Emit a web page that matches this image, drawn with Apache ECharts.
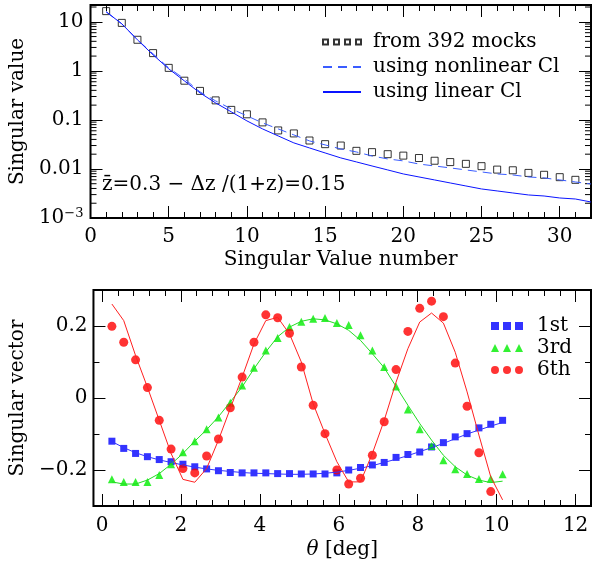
<!DOCTYPE html>
<html><head><meta charset="utf-8">
<script src="https://cdn.jsdelivr.net/npm/echarts@6/dist/echarts.min.js"></script>
<style>html,body{margin:0;padding:0;background:#fff}#c{width:592px;height:569px}</style>
</head><body><div id="c"></div>
<script>
const FONT = 'DejaVu Serif';
const FS = 20;

// ---- top panel data ----
const svIndex = [1,2,3,4,5,6,7,8,9,10,11,12,13,14,15,16,17,18,19,20,21,22,23,24,25,26,27,28,29,30,31,32];
const mocks = [16.5,9.5,4.3,2.3,1.15,0.63,0.39,0.25,0.16,0.13,0.089,0.061,0.053,0.038,0.032,0.030,0.0234,0.022,0.020,0.0187,0.0167,0.0147,0.0138,0.0127,0.0114,0.0097,0.0094,0.0083,0.0076,0.0068,0.0060];
const nonlinearCl = [16.0,9.1,4.29,2.22,1.15,0.687,0.373,0.244,0.168,0.121,0.0868,0.0655,0.0494,0.0373,0.0309,0.0256,0.0222,0.0184,0.0160,0.0146,0.0126,0.0115,0.0105,0.00955,0.00869,0.00791,0.00755,0.00687,0.00655,0.00597,0.00543,0.00494];
const linearCl = [16.0,9.1,4.29,2.12,1.10,0.625,0.356,0.222,0.146,0.0955,0.0655,0.0471,0.0340,0.0268,0.0212,0.0168,0.0139,0.0115,0.00955,0.00791,0.00687,0.00597,0.00518,0.00450,0.00391,0.00356,0.00324,0.00295,0.00281,0.00256,0.00244,0.00212];
const topXMajor = [0,5,10,15,20,25,30];
const topXMinor = [1,2,3,4,6,7,8,9,11,12,13,14,16,17,18,19,21,22,23,24,26,27,28,29,31];
const logMinor = [0.002,0.003,0.004,0.005,0.006,0.007,0.008,0.009,0.02,0.03,0.04,0.05,0.06,0.07,0.08,0.09,0.2,0.3,0.4,0.5,0.6,0.7,0.8,0.9,2,3,4,5,6,7,8,9,20];
const TOP_X = [0, 32];
const TOP_Y = [0.001, 22];

// ---- bottom panel data ----
const theta = [0.25,0.55,0.85,1.15,1.45,1.75,2.05,2.35,2.65,2.95,3.25,3.55,3.85,4.15,4.45,4.75,5.05,5.35,5.65,5.95,6.25,6.55,6.85,7.15,7.45,7.75,8.05,8.35,8.65,8.95,9.25,9.55,9.85,10.15];
const v1Pts = [-0.120,-0.140,-0.154,-0.163,-0.171,-0.177,-0.184,-0.191,-0.197,-0.202,-0.207,-0.208,-0.208,-0.208,-0.210,-0.210,-0.211,-0.211,-0.211,-0.208,-0.200,-0.193,-0.186,-0.179,-0.165,-0.157,-0.150,-0.136,-0.124,-0.108,-0.099,-0.083,-0.073,-0.062];
const v1Fit = [-0.121,-0.138,-0.152,-0.163,-0.172,-0.179,-0.186,-0.192,-0.197,-0.201,-0.204,-0.207,-0.209,-0.210,-0.211,-0.212,-0.212,-0.211,-0.209,-0.206,-0.201,-0.195,-0.188,-0.179,-0.170,-0.160,-0.149,-0.138,-0.126,-0.113,-0.100,-0.089,-0.078,-0.068];
const v3Pts = [-0.226,-0.233,-0.233,-0.233,-0.214,-0.184,-0.151,-0.120,-0.087,-0.054,-0.013,0.035,0.084,0.132,0.167,0.197,0.212,0.220,0.222,0.208,0.203,0.174,0.132,0.086,0.032,-0.032,-0.087,-0.133,-0.173,-0.198,-0.211,-0.225,-0.224,-0.212];
const v3Fit = [-0.233,-0.239,-0.239,-0.228,-0.210,-0.184,-0.154,-0.120,-0.088,-0.052,-0.011,0.031,0.081,0.128,0.170,0.197,0.213,0.220,0.217,0.206,0.188,0.160,0.123,0.084,0.032,-0.020,-0.071,-0.117,-0.159,-0.191,-0.214,-0.228,-0.235,-0.231];
const v6Pts = [0.199,0.155,0.106,0.029,-0.062,-0.142,-0.196,-0.208,-0.161,-0.114,-0.027,0.058,0.155,0.231,0.223,0.180,0.086,-0.020,-0.099,-0.200,-0.239,-0.223,-0.159,-0.066,0.079,0.185,0.249,0.269,0.226,0.097,-0.023,-0.152,-0.260];
const v6Fit = [0.261,0.215,0.118,0.030,-0.062,-0.154,-0.226,-0.234,-0.196,-0.117,-0.029,0.058,0.150,0.215,0.224,0.178,0.100,-0.016,-0.099,-0.177,-0.233,-0.233,-0.154,-0.062,0.044,0.137,0.211,0.236,0.208,0.127,0.017,-0.103,-0.219,-0.283];
const botXMajor = [0,2,4,6,8,10,12];
const botXMinor = [0.4,0.8,1.2,1.6,2.4,2.8,3.2,3.6,4.4,4.8,5.2,5.6,6.4,6.8,7.2,7.6,8.4,8.8,9.2,9.6,10.4,10.8,11.2,11.6];
const botYMajor = [-0.2,0,0.2];
const botYMinor = [-0.1,0.1];
const BOT_X = [-0.217, 12.39];
const BOT_Y = [-0.3, 0.3];

const txt = {fontFamily: FONT, fontSize: FS, color: '#000'};
const pair = (xs, ys) => ys.map((v, i) => [xs[i], v]);

function valAxis(grid, pos, ext, ticks, len, label, extra) {
  const a = {
    type: 'value', gridIndex: grid, position: pos, min: ext[0], max: ext[1],
    axisLine: {show: false, onZero: false}, splitLine: {show: false},
    axisTick: {show: true, inside: true, length: len, customValues: ticks, lineStyle: {color: '#000', width: 1}},
    axisLabel: label ? Object.assign({show: true, customValues: ticks, margin: 9}, txt, label) : {show: false}
  };
  return Object.assign(a, extra || {});
}

const minus = s => s.replace('-', '\u2212');

const xAxes = [
  valAxis(0, 'bottom', TOP_X, topXMajor, 12, {margin: 9}, {
    name: 'Singular Value number', nameLocation: 'middle', nameGap: 32, nameTextStyle: txt}),
  valAxis(0, 'bottom', TOP_X, topXMinor, 6, null),
  valAxis(0, 'top', TOP_X, topXMajor, 12, null),
  valAxis(0, 'top', TOP_X, topXMinor, 6, null),
  valAxis(1, 'bottom', BOT_X, botXMajor, 12, {margin: 10}, {
    name: '{it|θ} [deg]', nameLocation: 'middle', nameGap: 34,
    nameTextStyle: Object.assign({}, txt, {rich: {it: Object.assign({}, txt, {fontStyle: 'italic'})}})}),
  valAxis(1, 'bottom', BOT_X, botXMinor, 6, null),
  valAxis(1, 'top', BOT_X, botXMajor, 12, null),
  valAxis(1, 'top', BOT_X, botXMinor, 6, null)
];

function logLabel(v) {
  const e = Math.log10(v);
  const r = Math.round(e);
  if (Math.abs(e - r) > 0.01) return '';
  if (r === -3) return '10{sup|\u22123}';
  return {'-2': '0.01', '-1': '0.1', '0': '1', '1': '10'}[String(r)] || '';
}

const yAxes = [
  {type: 'log', logBase: 10, gridIndex: 0, position: 'left', min: TOP_Y[0], max: TOP_Y[1],
   axisLine: {show: false, onZero: false}, splitLine: {show: false}, minorTick: {show: false},
   axisTick: {show: true, inside: true, length: 12, lineStyle: {color: '#000', width: 1}},
   axisLabel: Object.assign({margin: 7, formatter: logLabel, showMaxLabel: false,
     rich: {sup: {fontFamily: FONT, fontSize: 13, color: '#000', verticalAlign: 'top', padding: [0, 0, 8, 0]}}}, txt),
   name: 'Singular value', nameLocation: 'middle', nameGap: 60, nameRotate: 90, nameTextStyle: txt},
  {type: 'log', logBase: 10, gridIndex: 0, position: 'right', min: TOP_Y[0], max: TOP_Y[1],
   axisLine: {show: false, onZero: false}, splitLine: {show: false},
   axisTick: {show: true, inside: true, length: 12, lineStyle: {color: '#000', width: 1}},
   axisLabel: {show: false}},
  valAxis(1, 'left', BOT_Y, botYMajor, 12, {margin: 6, formatter: v => v === 0 ? '0' : minus(v.toFixed(1))}, {
    name: 'Singular vector', nameLocation: 'middle', nameGap: 60, nameRotate: 90, nameTextStyle: txt}),
  valAxis(1, 'left', BOT_Y, botYMinor, 6, null),
  valAxis(1, 'right', BOT_Y, botYMajor, 12, null),
  valAxis(1, 'right', BOT_Y, botYMinor, 6, null)
];

const sqIcon = 'path://M0,0h8v8h-8zM12,0h8v8h-8zM24,0h8v8h-8z';
const triIcon = 'path://M0,8L4,0L8,8zM12,8L16,0L20,8zM24,8L28,0L32,8z';
const cirIcon = 'path://M0,4a4,4 0 1,0 8,0a4,4 0 1,0 -8,0zM12,4a4,4 0 1,0 8,0a4,4 0 1,0 -8,0zM24,4a4,4 0 1,0 8,0a4,4 0 1,0 -8,0z';
const hollowIcon = 'path://M0,0h5v5h-5zM11,0h5v5h-5zM22,0h5v5h-5zM33,0h5v5h-5z';

const option = {
  backgroundColor: '#fff',
  animation: false,
  grid: [
    {left: 88, top: 5, width: 503, height: 213, show: true, borderColor: '#000', borderWidth: 2, backgroundColor: 'transparent'},
    {left: 87, top: 290, width: 504, height: 216, show: true, borderColor: '#000', borderWidth: 2, backgroundColor: 'transparent'}
  ],
  xAxis: xAxes,
  yAxis: yAxes,
  legend: [
    {data: [{name: 'from 392 mocks', icon: hollowIcon},
            {name: 'using nonlinear Cl', itemStyle: {opacity: 0}},
            {name: 'using linear Cl', itemStyle: {opacity: 0}}],
     orient: 'vertical', left: 322, top: 32, padding: 0, itemGap: 5, itemWidth: 38, itemHeight: 5,
     selectedMode: false, textStyle: Object.assign({padding: [0, 0, 0, 7]}, txt)},
    {data: [{name: '1st', icon: sqIcon}, {name: '3rd', icon: triIcon}, {name: '6th', icon: cirIcon}],
     orient: 'vertical', left: 491, top: 316, padding: 0, itemGap: 2, itemWidth: 32, itemHeight: 8,
     selectedMode: false, textStyle: Object.assign({padding: [0, 0, 0, 9]}, txt)}
  ],
  graphic: [
    {type: 'text', left: 102, top: 175, silent: true,
     style: {text: 'z\u0304=0.3 \u2212 \u0394z /(1+z)=0.15', font: FS + 'px "' + FONT + '"', fill: '#000'}}
  ],
  series: [
    {type: 'custom', name: 'logMinorTicks', xAxisIndex: 0, yAxisIndex: 0, silent: true, clip: false,
     data: logMinor.map(v => [TOP_X[0], v]),
     renderItem: (params, api) => {
       const v = api.value(1);
       const p = api.coord([TOP_X[0], v]);
       const q = api.coord([TOP_X[1], v]);
       return {type: 'group', children: [
         {type: 'line', shape: {x1: p[0], y1: p[1], x2: p[0] + 6, y2: p[1]}, style: {stroke: '#000', lineWidth: 1}},
         {type: 'line', shape: {x1: q[0], y1: q[1], x2: q[0] - 6, y2: q[1]}, style: {stroke: '#000', lineWidth: 1}}
       ]};
     }},
    {type: 'line', name: 'using nonlinear Cl', xAxisIndex: 0, yAxisIndex: 0, data: pair(svIndex, nonlinearCl),
     symbol: 'none', lineStyle: {color: '#3a5cff', width: 1, type: [9, 6]}, itemStyle: {color: '#3a5cff'}},
    {type: 'line', name: 'using linear Cl', xAxisIndex: 0, yAxisIndex: 0, data: pair(svIndex, linearCl),
     symbol: 'none', lineStyle: {color: '#0a14ff', width: 1}, itemStyle: {color: '#0a14ff'}},
    {type: 'scatter', name: 'from 392 mocks', xAxisIndex: 0, yAxisIndex: 0, data: pair(svIndex, mocks),
     symbol: 'rect', symbolSize: 7, itemStyle: {color: 'rgba(0,0,0,0)', borderColor: '#000', borderWidth: 1}},

    {type: 'line', name: '1st fit', xAxisIndex: 4, yAxisIndex: 2, data: pair(theta, v1Fit), symbol: 'none',
     lineStyle: {color: '#3333ff', width: 1}},
    {type: 'line', name: '3rd fit', xAxisIndex: 4, yAxisIndex: 2, data: pair(theta, v3Fit), symbol: 'none',
     lineStyle: {color: '#22dd22', width: 1}},
    {type: 'line', name: '6th fit', xAxisIndex: 4, yAxisIndex: 2, data: pair(theta, v6Fit), symbol: 'none',
     lineStyle: {color: '#ff2020', width: 1}},
    {type: 'scatter', name: '1st', xAxisIndex: 4, yAxisIndex: 2, data: pair(theta, v1Pts),
     symbol: 'rect', symbolSize: 7, itemStyle: {color: '#0000ff'}},
    {type: 'scatter', name: '3rd', xAxisIndex: 4, yAxisIndex: 2, data: pair(theta, v3Pts),
     symbol: 'triangle', symbolSize: 8, itemStyle: {color: '#00ee00'}},
    {type: 'scatter', name: '6th', xAxisIndex: 4, yAxisIndex: 2, data: pair(theta, v6Pts),
     symbol: 'circle', symbolSize: 9, itemStyle: {color: '#ff0000'}}
  ]
};

const chart = echarts.init(document.getElementById('c'), null, {renderer: 'canvas'});
chart.setOption(option);
</script>
</body></html>
